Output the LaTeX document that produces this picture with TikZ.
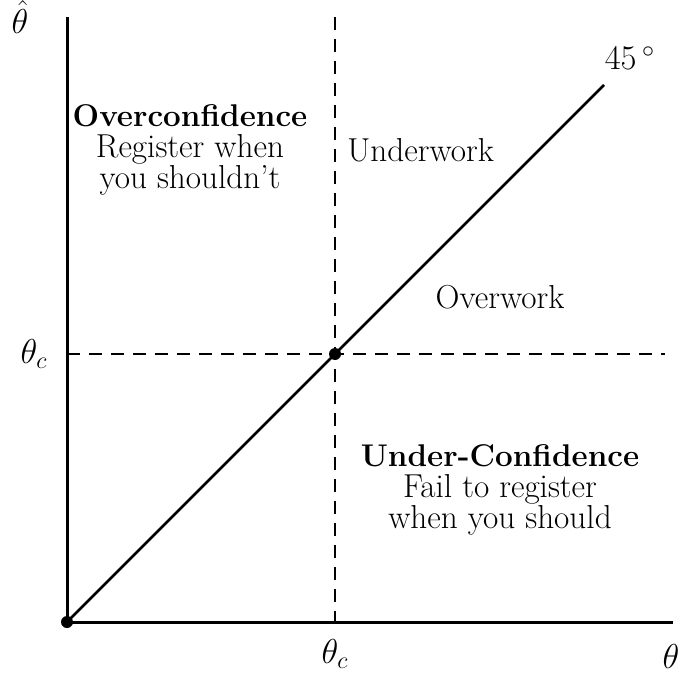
\documentclass[tikz,border=0pt]{standalone}
\begin{document}
\begin{tikzpicture}[x=0.5pt,y=-0.5pt,
  axis/.style={line width=1.5pt},
  guide/.style={line width=1.4pt,dash pattern=on 6.5pt off 4.5pt},
  diag/.style={line width=1.3pt},
  dotmark/.style={circle,fill=black,inner sep=0pt,minimum size=6pt},
  lbl/.style={inner sep=0pt,anchor=base,font=\fontsize{16.6}{15.5}\selectfont},
  block/.style={lbl,align=center}]
\newcommand{\hdr}[1]{{\fontsize{15.7}{15.5}\selectfont\textbf{#1}}}
\useasboundingbox (0,0) rectangle (680,674);
\coordinate (O) at (67,622);
\coordinate (Ytop) at (67,17);
\coordinate (Xend) at (673,622);
\coordinate (Vtop) at (335,17);
\coordinate (Vbot) at (335,622);
\coordinate (Hleft) at (67,354);
\coordinate (Hright) at (665,354);
\coordinate (Dend) at (604,85);
\draw[guide] (Vtop) -- (Vbot);
\draw[guide] (Hleft) -- (Hright);
\draw[axis] (Ytop) -- (O) -- (Xend);
\draw[diag] (O) -- (Dend);
\node[dotmark] (origin) at (O) {};
\node[dotmark] (crit) at (335,354) {};
\node[lbl] (thetahat) at (20,34) {$\hat\theta$};
\node[lbl] (deg) at (630,70) {$45\,^\circ$};
\node[lbl] (thcy) at (34,363) {$\theta_c$};
\node[lbl] (thcx) at (335,663) {$\theta_c$};
\node[lbl] (th) at (671,668) {$\theta$};
\node[block] (over) at (190,188) {\hdr{Overconfidence}\\Register when\\you shouldn't};
\node[lbl,anchor=base west] (underwork) at (347,162) {Underwork};
\node[lbl] (overwork) at (500,308) {Overwork};
\node[block] (under) at (500,528) {\hdr{Under-Confidence}\\Fail to register\\when you should};
\end{tikzpicture}
\end{document}
